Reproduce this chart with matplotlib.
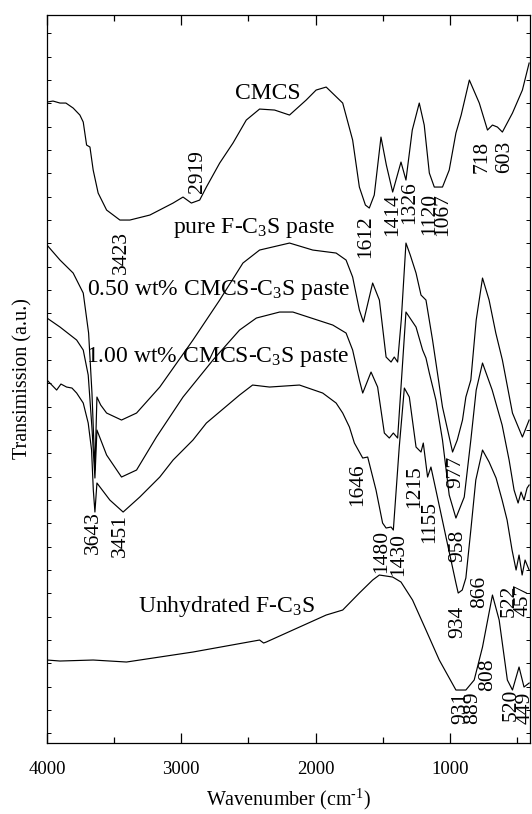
import numpy as np
import matplotlib
matplotlib.use('Agg')
import matplotlib.pyplot as plt
from matplotlib.ticker import MultipleLocator

plt.rcParams['font.family'] = ['Liberation Serif', 'DejaVu Serif']
plt.rcParams['mathtext.fontset'] = 'custom'
plt.rcParams['mathtext.rm'] = 'Liberation Serif'
plt.rcParams['mathtext.it'] = 'Liberation Serif:italic'

# FTIR spectra, transmission in arbitrary units (offset curves)
cmcs_wn = [4000, 3955, 3903, 3859, 3805, 3755, 3730, 3705, 3680, 3656, 3619, 3556, 3457, 3383,
           3234, 3061, 2987, 2925, 2863, 2813, 2714, 2615, 2516, 2417, 2305, 2194, 2070, 1996,
           1921, 1798, 1724, 1674, 1629, 1600, 1563, 1513, 1473, 1426, 1364, 1327, 1280, 1228,
           1191, 1153, 1116, 1055, 1005, 955, 916, 855, 781, 720, 683, 646, 609, 534, 460, 410]
cmcs_t = [641, 642, 640, 640, 635, 628, 621, 598, 596, 573, 550, 533, 523, 523,
          528, 540, 546, 540, 543, 556, 580, 600, 623, 634, 633, 628, 643, 653,
          656, 640, 603, 556, 538, 535, 548, 606, 578, 551, 581, 563, 613, 640,
          618, 570, 556, 556, 573, 610, 628, 663, 640, 613, 618, 616, 611, 630, 653, 680]

pure_wn = [4000, 3903, 3805, 3730, 3690, 3665, 3643, 3628, 3600, 3556, 3445, 3333, 3160, 2913,
           2714, 2541, 2417, 2194, 2021, 1847, 1773, 1724, 1674, 1644, 1575, 1525, 1475, 1438,
           1414, 1389, 1362, 1327, 1295, 1252, 1215, 1178, 1129, 1055, 980, 945, 906, 881,
           844, 804, 757, 708, 658, 609, 534, 460, 410]
pure_t = [498, 483, 470, 450, 410, 350, 273, 346, 338, 330, 323, 330, 356, 403,
          443, 480, 493, 500, 493, 490, 483, 466, 433, 421, 460, 443, 386, 381,
          386, 381, 423, 500, 488, 470, 448, 443, 403, 336, 291, 303, 323, 346,
          363, 423, 465, 443, 410, 383, 330, 306, 323]

c050_wn = [4000, 3903, 3779, 3730, 3693, 3665, 3643, 3628, 3556, 3445, 3333, 3185, 2987, 2764,
           2566, 2441, 2268, 2169, 1872, 1773, 1724, 1674, 1649, 1587, 1538, 1488, 1451, 1421,
           1389, 1327, 1252, 1203, 1178, 1153, 1104, 1055, 1005, 955, 893, 844, 804, 757,
           685, 611, 559, 522, 492, 470, 448, 425, 410]
c050_t = [425, 416, 403, 393, 368, 315, 265, 313, 288, 266, 273, 306, 346, 383,
          413, 425, 431, 431, 418, 410, 393, 363, 350, 371, 356, 310, 305, 310,
          305, 431, 416, 393, 385, 370, 343, 303, 248, 225, 246, 303, 353, 380,
          353, 318, 283, 253, 240, 251, 243, 255, 258]

c100_wn = [4000, 3928, 3896, 3854, 3814, 3779, 3730, 3693, 3668, 3655, 3643, 3628, 3532, 3433,
           3309, 3160, 3061, 2913, 2813, 2566, 2469, 2343, 2120, 1947, 1847, 1798, 1748, 1711,
           1649, 1612, 1550, 1501, 1475, 1438, 1421, 1377, 1339, 1302, 1252, 1215, 1198, 1166,
           1141, 1104, 1029, 955, 938, 908, 881, 844, 807, 757, 708, 656, 611, 574, 537,
           507, 485, 462, 440, 410]
c100_t = [363, 353, 359, 356, 355, 350, 340, 320, 293, 253, 231, 260, 243, 231,
          246, 266, 283, 303, 320, 348, 358, 356, 358, 350, 340, 330, 316, 300,
          285, 286, 253, 220, 215, 216, 213, 296, 355, 346, 296, 291, 300, 266,
          276, 253, 206, 160, 150, 153, 165, 213, 263, 293, 281, 265, 243, 223, 193,
          173, 188, 168, 183, 173]

unhyd_wn = [4000, 3903, 3656, 3408, 2913, 2417, 2387, 2367, 2169, 1921, 1798, 1674, 1575, 1525,
            1426, 1364, 1278, 1178, 1079, 955, 881, 819, 757, 683, 633, 572, 534, 485, 448, 410]
unhyd_t = [83, 82, 83, 81, 91, 103, 100, 101, 113, 128, 133, 150, 163, 168,
           166, 161, 143, 113, 83, 53, 53, 63, 96, 148, 123, 63, 53, 76, 56, 60]

curves = [(cmcs_wn, cmcs_t), (pure_wn, pure_t), (c050_wn, c050_t),
          (c100_wn, c100_t), (unhyd_wn, unhyd_t)]

names = ['CMCS', r'pure F-C$_3$S paste', r'0.50 wt% CMCS-C$_3$S paste',
         r'1.00 wt% CMCS-C$_3$S paste', r'Unhydrated F-C$_3$S']
name_x = [2358, 2454, 2722, 2729, 2662]
name_y = [650, 515, 453, 386, 137]

peak_labels = ['2919', '3423', '1612', '1414', '1326', '1120', '1067', '718', '603',
               '3643', '3451', '1646', '1215', '1155', '977', '958', '934', '866',
               '522', '457', '1480', '1430', '931', '889', '808', '520', '449']
peak_x = [2876, 3445, 1624, 1426, 1302, 1154, 1055, 757, 596,
          3656, 3457, 1689, 1265, 1154, 955, 943, 943, 782,
          559, 455, 1507, 1384, 916, 827, 722, 544, 440]
peak_y = [571, 491, 506, 528, 540, 529, 528, 586, 586,
          210, 207, 258, 256, 221, 271, 197, 121, 151,
          142, 143, 192, 189, 35, 35, 68, 38, 35]

fig = plt.figure(figsize=(5.32, 8.14), dpi=100)
ax = fig.add_axes([0.0883, 0.0872, 0.9088, 0.8943])

for wn, t in curves:
    ax.plot(wn, t, color='black', lw=0.85)

for s, x, y in zip(names, name_x, name_y):
    ax.text(x, y, s, fontsize=17, ha='center', va='center')

for s, x, y in zip(peak_labels, peak_x, peak_y):
    ax.text(x, y, s, fontsize=15.5, rotation=90, ha='center', va='center')

ax.set_xlim(4000, 400)
ax.set_ylim(0, 728)
ax.xaxis.set_major_locator(MultipleLocator(1000))
ax.xaxis.set_minor_locator(MultipleLocator(500))
ax.set_yticks(np.arange(9.7, 728, 23.33))
ax.set_yticklabels([])
ax.tick_params(axis='x', which='major', direction='in', length=7, width=0.9,
               top=True, labelsize=13.5, pad=13)
ax.tick_params(axis='x', which='minor', direction='in', length=4, width=0.9, top=True)
ax.tick_params(axis='y', which='major', direction='in', length=3, width=0.7, right=True)
for sp in ax.spines.values():
    sp.set_linewidth(0.9)

ax.set_xlabel(r'Wavenumber (cm$^{\text{-}1}$)', fontsize=14.5, labelpad=6)
ax.set_ylabel('Transimission (a.u.)', fontsize=14.5, labelpad=7)

plt.savefig('out.png', dpi=100)
